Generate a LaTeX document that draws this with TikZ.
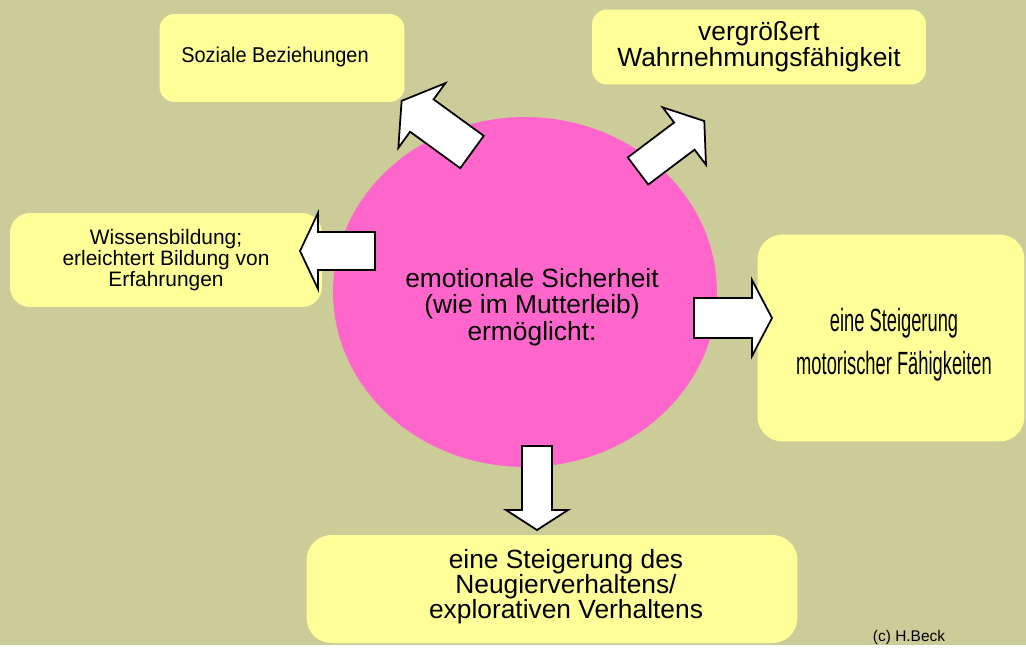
\documentclass[tikz,border=0pt]{standalone}
\usepackage{fontspec}
\setmainfont{Liberation Sans}
\newfontfamily\schmal[FakeStretch=0.93]{Liberation Sans}
\newfontfamily\sehrschmal[FakeStretch=0.57]{Liberation Sans}
\usetikzlibrary{shapes.geometric}
\definecolor{hinter}{HTML}{CCCC99}
\definecolor{gelb}{HTML}{FFFF99}
\definecolor{rosa}{HTML}{FF66CC}
\newcommand{\gr}[2]{\fontsize{#1}{#2}\selectfont}
\tikzset{
  kasten/.style={fill=gelb, rounded corners=#1, inner sep=0pt, align=center},
  kasten/.default=0.3cm,
  pfeil/.style={draw=black, fill=white, line width=1pt},
}
\begin{document}
\begin{tikzpicture}[x=0.02cm, y=-0.02cm]%{{{
%
% Hintergrund
\fill [hinter] (0,0) rectangle (1026,645);
%
% Kaesten
\node (sozial) [kasten, minimum width=4.9cm, minimum height=1.76cm] at (282,58) {};
\node (sozialtext) [font=\schmal\gr{12.2}{14}] at (275,57) {Soziale Beziehungen};
\node (wahrnehm) [kasten, minimum width=6.68cm, minimum height=1.5cm,
                  font=\gr{15}{13.7}] at (759,47) {vergrößert\\Wahrnehmungsfähigkeit};
\node (wissen) [kasten=0.4cm, minimum width=6.24cm, minimum height=1.88cm,
                font=\gr{11.9}{12}] at (166,260) {Wissensbildung;\\erleichtert Bildung von\\Erfahrungen};
\node (motorik) [kasten=0.5cm, minimum width=5.34cm, minimum height=4.14cm] at (891,338) {};
\node (motoriktext) [align=center, font=\sehrschmal\gr{18.3}{24.5}] at (894,345)
      {eine Steigerung\\motorischer Fähigkeiten};
\node (neugier) [kasten=0.5cm, minimum width=9.82cm, minimum height=2.16cm] at (552,589) {};
\node (neugiertext) [align=center, font=\gr{15}{14.2}] at (566,587)
      {eine Steigerung des\\Neugierverhaltens/\\explorativen Verhaltens};
%
% Kreis
\node (mitte) [ellipse, fill=rosa, minimum width=7.68cm, minimum height=7cm] at (525,292) {};
\node (mittetext) [align=center, font=\gr{15}{15.2}] at (532,307)
      {emotionale Sicherheit\\(wie im Mutterleib)\\ermöglicht:};
%
% Pfeile: x/y des Endes, Winkel, Laenge, Schaft, Spitze, Kopf
\foreach \px/\py/\w/\lang/\schaft/\breit/\kopf in
   {472/152/144/87/20/40/25, 638/171/37/83/17/36/25, 375/251/180/75/19/38/18,
    694/318/0/78/20/38/20, 537/446/-90/84/15/31/20}
  \draw [pfeil, shift={(\px,\py)}, rotate=\w]
                 (0,-\schaft) -- ++(\lang-\kopf,0)
            -- ++(0,\schaft-\breit) -- ++(\kopf,\breit)
            -- ++(-\kopf,\breit) -- ++(0,\schaft-\breit)
            -- ++(\kopf-\lang,0) -- cycle;
%
\node (beck) [font=\gr{8.8}{10}] at (909,637) {(c) H.Beck};
%
\end{tikzpicture}
\end{document}
